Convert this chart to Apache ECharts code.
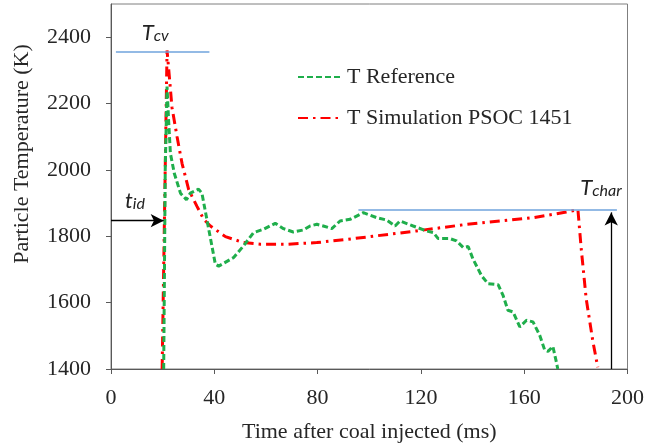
<!DOCTYPE html>
<html>
<head>
<meta charset="utf-8">
<script src="https://cdn.jsdelivr.net/npm/echarts@6/dist/echarts.min.js"></script>
<style>
  html, body { margin: 0; padding: 0; background: #fff; }
  #chart { width: 647px; height: 448px; }
</style>
</head>
<body>
<div id="chart"></div>
<script>
// axes
const xTicks = [0, 40, 80, 120, 160, 200]
const yTicks = [1400, 1600, 1800, 2000, 2200, 2400]
const yTop = 2500

// T Reference (time ms, temperature K)
const refTime = [20.4, 21.0, 21.7, 22.3, 23.0, 24.5, 26.9, 29.2, 30.7, 33.9, 35.2, 40.4, 41.7, 47.5, 51.3, 55.2, 59.0, 63.6, 66.8, 70.6, 74.5, 77.1, 79.7, 82.2, 85.5, 88.7, 92.6, 97.7, 102.9, 106.7, 110.0, 111.9, 117.0, 122.2, 124.8, 126.7, 131.2, 133.8, 136.4, 138.3, 140.2, 143.5, 146.0, 149.9, 151.8, 153.7, 155.7, 158.3, 160.9, 163.4, 166.0, 167.9, 169.2, 171.1, 172.4, 173.0]
const refTemp = [1400, 2000, 2251, 2150, 2050, 1990, 1930, 1910, 1930, 1942, 1930, 1716, 1710, 1736, 1771, 1811, 1821, 1839, 1823, 1813, 1819, 1831, 1836, 1831, 1823, 1846, 1851, 1871, 1856, 1849, 1831, 1846, 1831, 1816, 1811, 1793, 1793, 1786, 1766, 1769, 1731, 1681, 1657, 1654, 1622, 1577, 1572, 1527, 1547, 1542, 1502, 1458, 1453, 1468, 1423, 1400]

// T Simulation PSOC 1451
const simTime = [19.8, 21.7, 22.3, 23.6, 25.6, 27.5, 30.1, 33.3, 35.9, 38.5, 44.3, 51.3, 57.8, 68.1, 79.7, 91.9, 118.3, 137.7, 163.4, 176.3, 180.8, 182.1, 184.0, 186.6, 188.5]
const simTemp = [1400, 2360, 2308, 2189, 2099, 2020, 1940, 1890, 1851, 1831, 1799, 1781, 1776, 1776, 1781, 1791, 1816, 1836, 1856, 1873, 1880, 1761, 1612, 1483, 1405]

// annotations (data coords)
const tcvLine = [[1.9, 2356], [38.1, 2356]]
const tcharLine = [[95.8, 1879], [195.9, 1879]]
const tidArrow = [[0, 1847], [20.4, 1847]]
const tcharArrow = [[193.7, 1400], [193.7, 1872]]
const tcvLabelAt = [11.9, 2381]
const tidLabelAt = [5.4, 1874]
const tcharLabelAt = [181.7, 1913]

const zip = (xs, ys) => xs.map((x, i) => [x, ys[i]])

const serif = '"Liberation Serif", "Times New Roman", serif'
const textColor = '#262626'
const axisColor = '#595959'
const guide = { color: '#6fa3dd', width: 1.5, type: 'solid' }
const arrow = { color: '#000', width: 1.3, type: 'solid' }

function plainLine(p, style) {
  return [{ coord: p[0], symbol: 'none', lineStyle: style }, { coord: p[1], symbol: 'none' }]
}
function arrowLine(p, style) {
  return [{ coord: p[0], symbol: 'none', lineStyle: style }, { coord: p[1], symbol: 'arrow', symbolSize: [10, 13] }]
}

const chart = echarts.init(document.getElementById('chart'))

chart.setOption({
  animation: false,
  textStyle: { fontFamily: serif },
  grid: {
    left: 111, right: 19, top: 4, bottom: 77,
    show: true, borderColor: '#7f7f7f', borderWidth: 1,
  },
  legend: {
    orient: 'vertical',
    left: 292,
    top: 61,
    itemWidth: 44,
    itemHeight: 14,
    itemGap: 19,
    itemStyle: { opacity: 0 },
    textStyle: { fontFamily: serif, fontSize: 22, color: textColor },
    data: ['T Reference', 'T Simulation PSOC 1451'],
  },
  xAxis: {
    type: 'value',
    min: xTicks[0],
    max: xTicks[xTicks.length - 1],
    interval: xTicks[1] - xTicks[0],
    name: 'Time after coal injected (ms)',
    nameLocation: 'middle',
    nameGap: 52,
    nameTextStyle: { fontFamily: serif, fontSize: 22, color: textColor },
    axisLine: { lineStyle: { color: axisColor, width: 1 } },
    axisTick: { show: true, inside: false, length: 5, lineStyle: { color: axisColor } },
    axisLabel: { fontFamily: serif, fontSize: 22, color: textColor, margin: 18 },
    splitLine: { show: false },
  },
  yAxis: {
    type: 'value',
    min: yTicks[0],
    max: yTop,
    interval: yTicks[1] - yTicks[0],
    axisLine: { show: true, lineStyle: { color: axisColor, width: 1 } },
    axisTick: { show: true, inside: false, length: 5, lineStyle: { color: axisColor } },
    axisLabel: {
      fontFamily: serif, fontSize: 22, color: textColor, margin: 20,
      showMaxLabel: false,
      formatter: v => (v > yTicks[yTicks.length - 1] ? '' : String(v)),
    },
    splitLine: { show: false },
  },
  series: [
    {
      name: 'T Reference',
      type: 'line',
      data: zip(refTime, refTemp),
      showSymbol: false,
      symbol: 'none',
      lineStyle: { color: '#1fae4b', width: 3, type: [6, 3] },
      itemStyle: { color: '#1fae4b' },
      z: 3,
    },
    {
      name: 'T Simulation PSOC 1451',
      type: 'line',
      data: zip(simTime, simTemp),
      showSymbol: false,
      symbol: 'none',
      lineStyle: { color: '#ff0000', width: 3, type: [10, 5, 2.5, 5] },
      itemStyle: { color: '#ff0000' },
      z: 2,
      markLine: {
        silent: true,
        animation: false,
        label: { show: false },
        emphasis: { disabled: true },
        data: [
          plainLine(tcvLine, guide),
          plainLine(tcharLine, guide),
          arrowLine(tidArrow, arrow),
          arrowLine(tcharArrow, arrow),
        ],
      },
    },
  ],
})

// labels anchored to data coordinates
const annoFont = 'Lato, "Open Sans", sans-serif'
function subLabel(main, sub, at) {
  const [x, y] = chart.convertToPixel({ gridIndex: 0 }, at)
  return {
    type: 'text',
    x, y,
    silent: true,
    style: {
      text: `{m|${main}}{s|${sub}}`,
      fill: '#222',
      verticalAlign: 'bottom',
      rich: {
        m: { fontFamily: annoFont, fontStyle: 'italic', fontSize: 22, lineHeight: 22, verticalAlign: 'bottom' },
        s: { fontFamily: annoFont, fontStyle: 'italic', fontSize: 16, lineHeight: 22, verticalAlign: 'bottom' },
      },
    },
  }
}

chart.setOption({
  graphic: [
    {
      type: 'text',
      x: 22, y: 154,
      rotation: Math.PI / 2,
      silent: true,
      style: {
        text: 'Particle Temperature (K)',
        fontFamily: serif, fontSize: 22,
        fill: textColor,
        align: 'center', verticalAlign: 'middle',
      },
    },
    subLabel('T', 'cv', tcvLabelAt),
    subLabel('t', 'id', tidLabelAt),
    subLabel('T', 'char', tcharLabelAt),
  ],
})
</script>
</body>
</html>
